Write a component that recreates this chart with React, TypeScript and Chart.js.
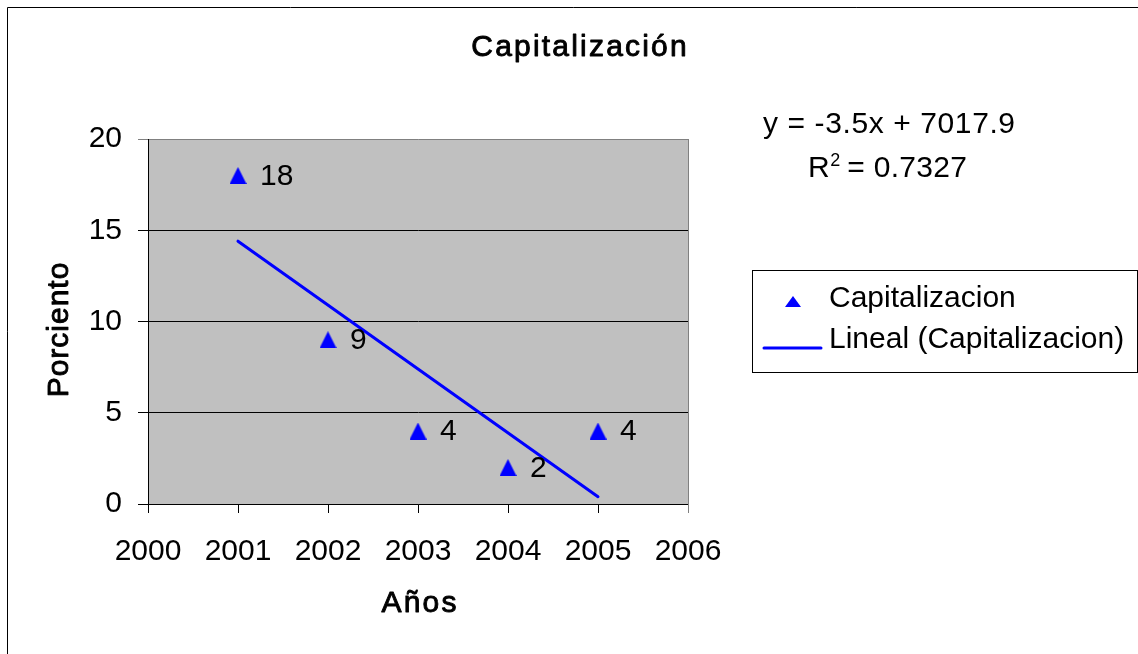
import React, { useEffect, useRef } from 'react';
import { Chart, registerables } from 'chart.js';

Chart.register(...registerables);

// ---- data ----
const years = [2001, 2002, 2003, 2004, 2005];
const values = [18, 9, 4, 2, 4];
const trendYears = [2001, 2005];
const trendValues = [14.4, 0.4];
const xMin = 2000;
const xMax = 2006;
const yMin = 0;
const yMax = 20;
const yStep = 5;
const chartTitle = 'Capitalización';
const xTitle = 'Años';
const yTitle = 'Porciento';
const seriesName = 'Capitalizacion';
const trendName = 'Lineal (Capitalizacion)';
const equationText = 'y = -3.5x + 7017.9';
const r2Text = ' = 0.7327';

const FONT = '"Liberation Sans", Arial, sans-serif';
const BLUE = '#0000FF';

function makeTriangle(w: number, h: number) {
  const c = document.createElement('canvas');
  c.width = w;
  c.height = h;
  const g = c.getContext('2d')!;
  g.fillStyle = BLUE;
  g.beginPath();
  g.moveTo(w / 2, 0);
  g.lineTo(w, h);
  g.lineTo(0, h);
  g.closePath();
  g.fill();
  return c;
}

function txt(
  ctx: CanvasRenderingContext2D,
  s: string,
  x: number,
  y: number,
  font: string,
  spacing: number,
  align: CanvasTextAlign = 'left',
  stroke = 0
) {
  ctx.save();
  ctx.font = font;
  (ctx as any).letterSpacing = spacing + 'px';
  ctx.textAlign = align;
  ctx.textBaseline = 'alphabetic';
  ctx.fillStyle = '#000';
  let xx = x;
  if (align === 'center' && spacing) xx = x + spacing / 2;
  ctx.fillText(s, xx, y);
  if (stroke > 0) {
    ctx.strokeStyle = '#000';
    ctx.lineWidth = stroke;
    ctx.lineJoin = 'round';
    ctx.strokeText(s, xx, y);
  }
  ctx.restore();
}

const decor = {
  id: 'decor',
  beforeDraw(chart: any) {
    const { ctx, chartArea: a } = chart;
    ctx.save();
    ctx.fillStyle = '#C0C0C0';
    ctx.fillRect(a.left, a.top, a.right - a.left, a.bottom - a.top);
    ctx.restore();
  },
  afterDraw(chart: any) {
    const { ctx, chartArea: a, scales } = chart;
    // plot area right border (grey)
    ctx.save();
    ctx.strokeStyle = '#808080';
    ctx.lineWidth = 1;
    ctx.beginPath();
    ctx.moveTo(Math.round(a.right) + 0.5, a.top);
    ctx.lineTo(Math.round(a.right) + 0.5, a.bottom + 9);
    ctx.stroke();
    // outer chart border
    ctx.strokeStyle = '#000';
    ctx.beginPath();
    ctx.moveTo(7.5, 660);
    ctx.lineTo(7.5, 7.5);
    ctx.lineTo(1140, 7.5);
    ctx.stroke();
    ctx.restore();

    // title
    txt(ctx, chartTitle, 579, 56, `30px ${FONT}`, 2.2, 'center', 0.9);
    // x title
    txt(ctx, xTitle, 419, 612, `30px ${FONT}`, 2.2, 'center', 0.9);
    // y title
    ctx.save();
    ctx.translate(68, 330);
    ctx.rotate(-Math.PI / 2);
    txt(ctx, yTitle, 0, 0, `30px ${FONT}`, 1, 'center', 0.9);
    ctx.restore();

    // trendline equation
    const base = `30px ${FONT}`;
    txt(ctx, equationText, 763, 133, base, 0.6);
    ctx.save();
    ctx.font = base;
    const rw = ctx.measureText('R').width;
    ctx.restore();
    txt(ctx, 'R', 808, 177, base, 0);
    txt(ctx, '2', 808 + rw + 0.5, 166, `18px ${FONT}`, 0);
    txt(ctx, r2Text, 808 + rw + 9, 177, base, 0.3);

    // legend
    ctx.save();
    ctx.strokeStyle = '#000';
    ctx.lineWidth = 1;
    ctx.strokeRect(752.5, 270.5, 385, 102);
    ctx.fillStyle = BLUE;
    ctx.beginPath();
    ctx.moveTo(793, 296);
    ctx.lineTo(801, 307);
    ctx.lineTo(785, 307);
    ctx.closePath();
    ctx.fill();
    ctx.strokeStyle = BLUE;
    ctx.lineWidth = 3;
    ctx.lineCap = 'round';
    ctx.beginPath();
    ctx.moveTo(764, 348);
    ctx.lineTo(821, 348);
    ctx.stroke();
    ctx.restore();
    txt(ctx, seriesName, 829, 307, base, 0);
    txt(ctx, trendName, 829, 348, base, 0);

    // data labels
    const xs = scales.x;
    const ys = scales.y;
    years.forEach((yr, i) => {
      const px = xs.getPixelForValue(yr);
      const py = ys.getPixelForValue(values[i]);
      txt(ctx, String(values[i]), px + 22, py + 9, base, 0);
    });
  },
};

export default function App() {
  const ref = useRef<HTMLCanvasElement>(null);
  useEffect(() => {
    const canvas = ref.current!;
    const tri = makeTriangle(17, 17);
    const chart = new Chart(canvas, {
      type: 'scatter',
      data: {
        datasets: [
          {
            label: trendName,
            type: 'line',
            data: trendYears.map((x, i) => ({ x, y: trendValues[i] })),
            borderColor: BLUE,
            borderWidth: 3,
            borderCapStyle: 'round',
            pointRadius: 0,
            showLine: true,
            fill: false,
          } as any,
          {
            label: seriesName,
            data: years.map((x, i) => ({ x, y: values[i] })),
            pointStyle: tri as any,
            pointRadius: 9,
            backgroundColor: BLUE,
            borderColor: BLUE,
            showLine: false,
          },
        ],
      },
      options: {
        animation: false,
        responsive: false,
        devicePixelRatio: 1,
        layout: { padding: { left: 0, top: 139, right: 450, bottom: 0 } },
        plugins: {
          legend: { display: false },
          title: { display: false },
          tooltip: { enabled: false },
        },
        scales: {
          x: {
            type: 'linear',
            min: xMin,
            max: xMax,
            afterFit(scale: any) {
              scale.height = 150;
            },
            ticks: {
              stepSize: 1,
              autoSkip: false,
              maxRotation: 0,
              padding: 21,
              color: '#000',
              font: { family: FONT, size: 30 },
              callback: (v: any) => String(v),
            },
            grid: {
              drawOnChartArea: false,
              drawTicks: true,
              tickLength: 9,
              tickColor: (c: any) => (c.tick && c.tick.value === xMax ? '#808080' : '#000'),
            },
            border: { display: true, color: '#000', width: 1 },
          },
          y: {
            type: 'linear',
            min: yMin,
            max: yMax,
            afterFit(scale: any) {
              scale.width = 148;
            },
            ticks: {
              stepSize: yStep,
              padding: 16,
              color: '#000',
              font: { family: FONT, size: 30 },
              callback: (v: any) => String(v),
            },
            grid: {
              drawTicks: true,
              tickLength: 10,
              color: (c: any) => (c.tick && c.tick.value === yMax ? '#808080' : '#000'),
              tickColor: (c: any) => (c.tick && c.tick.value === yMax ? '#808080' : '#000'),
            },
            border: { display: true, color: '#000', width: 1 },
          },
        },
      },
      plugins: [decor],
    });
    return () => chart.destroy();
  }, []);
  return (
    <div style={{ position: 'absolute', left: 0, top: 0, width: 1138, height: 654, background: '#fff' }}>
      <canvas ref={ref} width={1138} height={654} style={{ display: 'block', width: 1138, height: 654 }} />
    </div>
  );
}
